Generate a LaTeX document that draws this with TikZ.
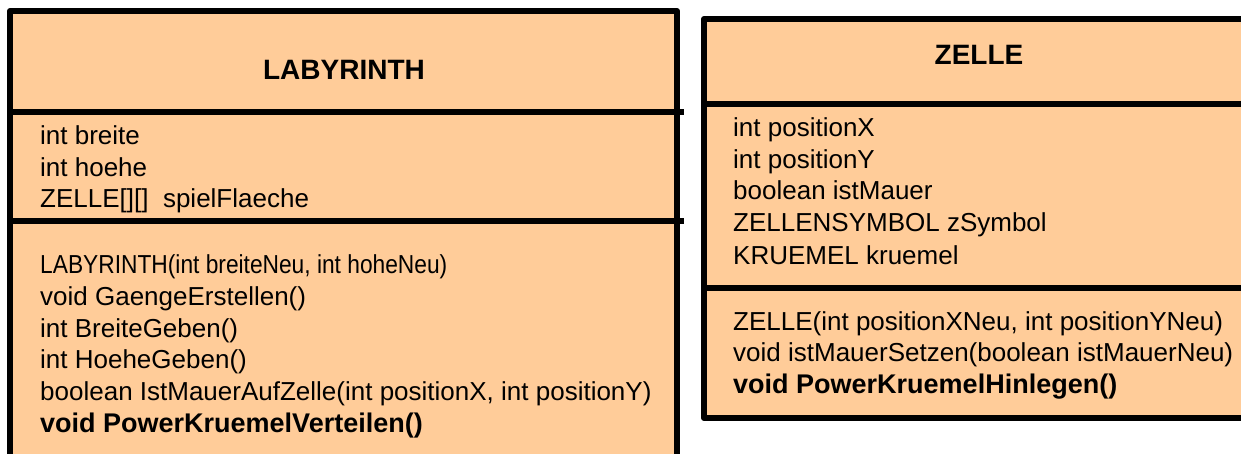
\documentclass[tikz,border=0pt]{standalone}
\usepackage{fontspec}
\setmainfont{Liberation Sans}
\definecolor{classfill}{HTML}{FFCC99}
\tikzset{
  boxline/.style={line width=6pt, line join=round},
  divider/.style={line width=6pt},
  member/.style={anchor=base west, inner sep=0pt, font=\fontsize{26}{30}\selectfont},
  boldmember/.style={member, font=\fontsize{27}{30}\selectfont\bfseries},
  classtitle/.style={anchor=base, inner sep=0pt, font=\fontsize{28}{32}\selectfont\bfseries},
}
\begin{document}
\begin{tikzpicture}[x=1pt, y=-1pt]
\useasboundingbox (0,0) rectangle (1241,454);

% LABYRINTH class box
\draw[boxline, fill=classfill] (10,480) -- (10,11) -- (677,11) -- (677,480);
\coordinate (l1a) at (10,112.5);  \coordinate (l1b) at (684,112.5);
\coordinate (l2a) at (10,221.5);  \coordinate (l2b) at (684,221.5);
\draw[divider] (l1a) -- (l1b);
\draw[divider] (l2a) -- (l2b);

% ZELLE class box
\draw[boxline, fill=classfill] (1260,19) -- (704,19) -- (704,418) -- (1260,418);
\coordinate (z1a) at (704,104.5); \coordinate (z1b) at (1260,104.5);
\coordinate (z2a) at (704,288);   \coordinate (z2b) at (1260,288);
\draw[divider] (z1a) -- (z1b);
\draw[divider] (z2a) -- (z2b);

% LABYRINTH texts
\node[classtitle] (ltitle) at (344,80) {LABYRINTH};
\node[member] (la1) at (40,145) {int breite};
\node[member] (la2) at (40,176.5) {int hoehe};
\node[member] (la3) at (40,208) {ZELLE[][]\ \ spielFlaeche};
\node[member] (lm1) at (40,273) {\scalebox{0.875}[1]{LABYRINTH(int breiteNeu, int hoheNeu)}};
\node[member] (lm2) at (40,305) {void GaengeErstellen()};
\node[member] (lm3) at (40,337) {int BreiteGeben()};
\node[member] (lm4) at (40,368) {int HoeheGeben()};
\node[member] (lm5) at (40,400) {boolean IstMauerAufZelle(int positionX, int positionY)};
\node[boldmember] (lm6) at (40,432) {void PowerKruemelVerteilen()};

% ZELLE texts
\node[classtitle] (ztitle) at (979,65) {ZELLE};
\node[member] (za1) at (733,137) {int positionX};
\node[member] (za2) at (733,168.5) {int positionY};
\node[member] (za3) at (733,200) {boolean istMauer};
\node[member] (za4) at (733,232) {ZELLENSYMBOL zSymbol};
\node[member] (za5) at (733,264) {KRUEMEL kruemel};
\node[member] (zm1) at (733,330) {ZELLE(int positionXNeu, int positionYNeu)};
\node[member] (zm2) at (733,361.5) {void istMauerSetzen(boolean istMauerNeu)};
\node[boldmember] (zm3) at (733,393) {void PowerKruemelHinlegen()};
\end{tikzpicture}
\end{document}
